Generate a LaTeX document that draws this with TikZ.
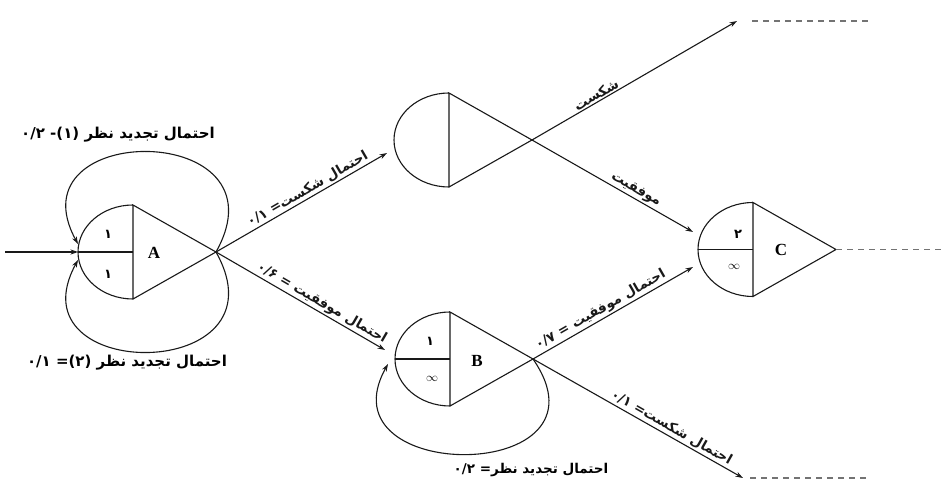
\documentclass[tikz,border=0pt]{standalone}
\usepackage{fontspec}
\setmainfont{Liberation Serif}
\newfontfamily\arabicfont[Script=Arabic]{DejaVu Sans}
\newfontfamily\numfont{DejaVu Sans}
\TeXXeTstate=1
\usetikzlibrary{arrows.meta}
\tikzset{
  line/.style={line width=1.1pt, black!90},
  arr/.style={line, -{Stealth[length=7.5pt,width=5pt]}},
  dashline/.style={line width=1.1pt, black!55, dash pattern=on 6pt off 5pt},
  lbl/.style={font=\arabicfont\bfseries\fontsize{13.5}{16}\selectfont, inner sep=1.5pt},
  looplbl/.style={font=\arabicfont\bfseries\fontsize{15}{17}\selectfont, inner sep=1.5pt},
  digit/.style={font=\numfont\bfseries\fontsize{13}{15}\selectfont, inner sep=0pt},
  inf/.style={font=\fontsize{12}{13}\selectfont, inner sep=0pt},
  letter/.style={font=\fontsize{17}{18}\selectfont\bfseries, inner sep=0pt},
  pics/drop/.style={code={
    \draw[line] (0,47) arc[start angle=90,end angle=270,x radius=55pt,y radius=47pt]
       -- (0,47) -- (83,0) -- (0,-47);
    \coordinate (-apex) at (83,0);
    \coordinate (-left) at (-55,0);
  }},
  pics/splitdrop/.style={code={
    \draw[line] (0,47) arc[start angle=90,end angle=270,x radius=55pt,y radius=47pt]
       -- (0,47) -- (83,0) -- (0,-47);
    \draw[line] (-55,0) -- (0,0);
    \coordinate (-apex) at (83,0);
    \coordinate (-left) at (-55,0);
  }}
}
\begin{document}
\begin{tikzpicture}[x=1pt,y=1pt]
\useasboundingbox[fill=white] (0,0) rectangle (941,482);

% nodes
\pic (A) at (133,230) {splitdrop};
\pic (U) at (449,342) {drop};
\pic (B) at (450,123) {splitdrop};
\pic (C) at (753,232.5) {splitdrop};

\node[digit] (A1) at (108,248) {۱};
\node[digit] (A2) at (108,208) {۱};
\node[letter] (Al) at (154,229) {A};
\node[digit] (B1) at (430,141) {۱};
\node[inf] (B2) at (432,103) {$\infty$};
\node[letter] (Bl) at (477,121) {B};
\node[digit] (C1) at (738,248) {۲};
\node[inf] (C2) at (734,215) {$\infty$};
\node[letter] (Cl) at (781,232) {C};

% free ends
\coordinate (in0) at (5,230);
\coordinate (Alu) at (78,238);
\coordinate (All) at (78,222);
\coordinate (Uin) at (387,329);
\coordinate (Bin) at (385,132);
\coordinate (Bloop) at (388,118);
\coordinate (Ufail) at (737,461);
\coordinate (Ufd1) at (752,461);
\coordinate (Ufd2) at (868,461);
\coordinate (Cinu) at (693,250);
\coordinate (Cinl) at (693,215);
\coordinate (Bfail) at (743,4);
\coordinate (Bfd1) at (750,4);
\coordinate (Bfd2) at (868,4);
\coordinate (Cout) at (941,232.5);

% connectors
\draw[arr] (in0) -- (A-left);
\draw[arr] (A-apex) .. controls (290,362) and (10,362) .. (Alu);
\draw[arr] (A-apex) .. controls (290,98) and (10,98) .. (All);
\draw[arr] (A-apex) -- node[lbl, sloped, above, pos=0.56] {\beginR احتمال شکست\beginL{\numfont ۰/۱ =}\endL\endR} (Uin);
\draw[arr] (A-apex) -- node[lbl, sloped, above, pos=0.6] {\beginR احتمال موفقیت \beginL{\numfont ۰/۶ =}\endL\endR} (Bin);
\draw[arr] (B-apex) .. controls (620,-3) and (320,-3) .. (Bloop);
\draw[arr] (U-apex) -- node[lbl, sloped, above, pos=0.33] {\beginR شکست\endR} (Ufail);
\draw[arr] (U-apex) -- node[lbl, sloped, above, pos=0.62] {\beginR موفقیت\endR} (Cinu);
\draw[arr] (B-apex) -- node[lbl, sloped, above, pos=0.45] {\beginR احتمال موفقیت \beginL{\numfont ۰/۷ =}\endL\endR} (Cinl);
\draw[arr] (B-apex) -- node[lbl, sloped, above, pos=0.64] {\beginR احتمال شکست\beginL{\numfont ۰/۱ =}\endL\endR} (Bfail);
\draw[dashline] (Ufd1) -- (Ufd2);
\draw[dashline] (Bfd1) -- (Bfd2);
\draw[dashline] (C-apex) -- (Cout);

% loop labels
\node[looplbl] (L1) at (118,347) {\beginR احتمال تجدید نظر \beginL{\numfont ۰/۲ -(۱)}\endL\endR};
\node[looplbl] (L2) at (127,119) {\beginR احتمال تجدید نظر \beginL{\numfont ۰/۱ =(۲)}\endL\endR};
\node[lbl] (L3) at (531,12) {\beginR احتمال تجدید نظر\beginL{\numfont ۰/۲ =}\endL\endR};
\end{tikzpicture}
\end{document}
